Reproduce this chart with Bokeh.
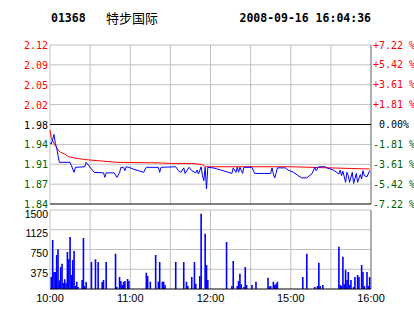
from bokeh.plotting import figure
from bokeh.models import Range1d
from bokeh.embed import file_html
from bokeh.resources import INLINE
from bokeh.core.properties import value

# ---------------- data ----------------
stock_code = "01368"
stock_name = "特步国际"
stamp = "2008-09-16 16:04:36"
prev_close = 1.98
pct_levels = [7.22, 5.42, 3.61, 1.81, 0.0, -1.81, -3.61, -5.42, -7.22]
price_labels = ["2.12", "2.09", "2.05", "2.02", "1.98", "1.94", "1.91", "1.87", "1.84"]
pct_labels = ["+7.22 %", "+5.42 %", "+3.61 %", "+1.81 %", "0.00%", "-1.81 %", "-3.61 %", "-5.42 %", "-7.22 %"]

time_grid = [0, 30, 60, 90, 120, 150, 180, 210, 240]
time_ticks = [0, 60, 120, 180, 240]
time_labels = ["10:00", "11:00", "12:00", "15:00", "16:00"]
vol_grid = [375, 750, 1125, 1500]
vol_ticks = [375, 750, 1125, 1500]
vol_labels = ["375", "750", "1125", "1500"]

# minutes of trading since 10:00 (lunch break removed)
price_t = [0, 1, 3, 4, 5, 6, 7, 15, 16, 18, 19, 26, 27, 28, 33,
           40, 41, 42, 48, 50, 52, 53, 55, 56, 57, 59, 62,
           70, 72, 81, 82, 83, 94, 96, 98, 100, 101, 104, 106,
           109, 110, 111, 113, 114, 115, 116, 117, 118, 122, 128,
           136, 137, 139, 140, 141, 142, 144, 145, 149, 151, 153,
           165, 166, 167, 168, 169, 170, 176, 178, 182, 188, 192,
           196, 198, 199, 201, 206, 207, 212, 216, 217, 218, 219,
           221, 222, 223, 224, 226, 227, 229, 230, 232, 233, 234, 235, 237, 239]
price_v = [1.947, 1.945, 1.962, 1.946, 1.938, 1.924, 1.912, 1.912, 1.906, 1.894, 1.903, 1.904, 1.912, 1.909, 1.894,
           1.893, 1.885, 1.893, 1.893, 1.885, 1.893, 1.903, 1.903, 1.897, 1.904, 1.903, 1.900,
           1.894, 1.903, 1.903, 1.894, 1.903, 1.904, 1.897, 1.894, 1.902, 1.892, 1.903, 1.897,
           1.893, 1.898, 1.891, 1.904, 1.888, 1.879, 1.903, 1.864, 1.903, 1.902, 1.898,
           1.892, 1.902, 1.894, 1.903, 1.894, 1.903, 1.892, 1.903, 1.903, 1.903, 1.892,
           1.892, 1.902, 1.891, 1.884, 1.892, 1.902, 1.902, 1.898, 1.894, 1.884, 1.884,
           1.892, 1.903, 1.897, 1.904, 1.904, 1.902, 1.898, 1.891, 1.898, 1.888, 1.896,
           1.876, 1.894, 1.888, 1.876, 1.894, 1.874, 1.892, 1.876, 1.890, 1.882, 1.897, 1.888, 1.886, 1.897]

avg_t = [0, 1, 4, 6, 8, 11, 14, 18, 26, 40, 50, 80, 90, 106, 114, 116, 180, 239]
avg_v = [1.970, 1.955, 1.942, 1.934, 1.930, 1.927, 1.922, 1.920, 1.917, 1.914, 1.912, 1.911,
         1.910, 1.910, 1.908, 1.904, 1.904, 1.900]

vol_t = [1, 2, 3, 4, 5, 6, 7, 8, 9, 10, 11, 12, 13, 14, 15, 16, 17, 18, 19, 20, 21,
         24, 25, 26, 27, 31, 34, 36, 39, 40, 42,
         49, 50, 52, 53, 54, 55, 56, 58, 59,
         72, 73, 75, 79, 81, 82, 84, 85, 86,
         94, 100, 102, 103, 106, 108, 109, 112, 113, 116, 117, 118,
         132, 136, 137, 140, 141, 142, 143, 145, 146, 147, 151, 154,
         163, 164, 165, 167, 168, 169, 170,
         189, 192, 198, 200, 201, 202, 204,
         216, 217, 218, 219, 220, 221, 222, 223, 224, 225, 227, 228, 230, 231, 233, 234, 235, 237, 238, 239]
vol_v = [228, 930, 323, 323, 646, 753, 165, 418, 481, 114, 184, 114, 703, 563, 988, 266, 551, 722, 57, 139, 38,
         171, 968, 51, 133, 513, 563, 513, 133, 171, 513,
         671, 38, 228, 152, 76, 133, 152, 190, 152,
         310, 247, 139, 646, 139, 513, 139, 139, 76,
         513, 513, 139, 57, 228, 513, 101, 247, 1431, 1051, 456, 171,
         893, 57, 532, 57, 152, 291, 89, 38, 418, 76, 76, 139,
         215, 44, 57, 139, 76, 101, 139,
         228, 671, 38, 57, 500, 57, 76,
         804, 76, 57, 614, 89, 367, 171, 323, 76, 171, 38, 228, 266, 228, 456, 323, 57, 323, 57, 228]
assert len(price_t) == len(price_v) and len(avg_t) == len(avg_v) and len(vol_t) == len(vol_v)

# ---------------- styles / layout ----------------
RED = "#ff0000"
GREEN = "#006000"
BLACK = "#000000"
GRID = "#c0c0c0"
EDGE = "#808080"
BLUE = "#0000ff"
MONO = "DejaVu Sans Mono"
SANS = "Liberation Sans"

W, H = 414, 314
LEFT = 49                     # px of the panels' left edge
kx = 321 / 240.0              # px per trading minute
P_TOP, P_BOT = 44.5, 203.5    # pixel centres of the price panel's top / bottom lines
V_TOP, V_BOT = 209.5, 288.5   # pixel centres of the volume panel's top / bottom lines

levels = [prev_close * (1 + p / 100.0) for p in pct_levels]
top, bottom = max(levels), min(levels)
label_colors = [RED if p > 0 else (BLACK if p == 0 else GREEN) for p in pct_levels]
is_black = [(p == 0 or lv == bottom) for p, lv in zip(pct_levels, levels)]
right_offsets = [2 if lab[0] in "+-" else 8 for lab in pct_labels]

sy = (P_BOT - P_TOP) / (top - bottom)      # px per price unit
sv = (V_BOT - V_TOP) / 1500.0               # px per volume unit

p = figure(width=W, height=H,
           x_range=Range1d(-(LEFT + 0.5) / kx, (W - LEFT - 0.5) / kx),
           y_range=Range1d(bottom - (H - P_BOT) / sy, top + P_TOP / sy),
           min_border_top=0, min_border_bottom=0, min_border_left=0, min_border_right=0,
           toolbar_location=None, output_backend="svg", x_axis_location=None, y_axis_location=None,
           title_location=None)
p.extra_y_ranges = {"vol": Range1d(-(H - V_BOT) / sv, V_BOT / sv)}
p.grid.visible = False
p.outline_line_color = None
p.background_fill_color = "white"
p.border_fill_color = "white"

# ---- price panel ----
n = len(time_grid)
p.segment(x0=time_grid, y0=[bottom] * n, x1=time_grid, y1=[top] * n, line_color=GRID, line_width=1)
gray_lv = [lv for lv, b in zip(levels, is_black) if not b]
black_lv = [lv for lv, b in zip(levels, is_black) if b]
p.segment(x0=[0] * len(gray_lv), y0=gray_lv, x1=[240] * len(gray_lv), y1=gray_lv, line_color=GRID, line_width=1)
p.segment(x0=[240], y0=[bottom], x1=[240], y1=[top], line_color=EDGE, line_width=1)
p.segment(x0=[0] * len(black_lv), y0=black_lv, x1=[240] * len(black_lv), y1=black_lv, line_color=BLACK, line_width=1)

p.line(avg_t, avg_v, line_color=RED, line_width=1)
p.line(price_t, price_v, line_color=BLUE, line_width=1)

p.text(x=[0] * len(levels), y=levels, text=price_labels, text_color=label_colors, x_offset=-2,
       text_align="right", text_baseline="middle", text_font=value(MONO), text_font_size="10px")
p.text(x=[240] * len(levels), y=levels, text=pct_labels, text_color=label_colors, x_offset=right_offsets,
       text_align="left", text_baseline="middle", text_font=value(MONO), text_font_size="10px")

header_y = top + (P_TOP - 17) / sy
p.text(x=[0], y=[header_y], text=[stock_code], x_offset=1, text_align="left", text_baseline="middle",
       text_font=value(MONO), text_font_style="bold", text_font_size="11.5px", text_color=BLACK)
p.text(x=[0], y=[header_y], text=[stock_name], x_offset=56, text_align="left", text_baseline="middle",
       text_font=value("Noto Sans CJK SC"), text_font_size="13px", text_color=BLACK)
p.text(x=[240], y=[header_y], text=[stamp], x_offset=0, text_align="right", text_baseline="middle",
       text_font=value(MONO), text_font_style="bold", text_font_size="11.5px", text_color=BLACK)

# ---- volume panel ----
p.segment(x0=time_grid, y0=[0] * n, x1=time_grid, y1=[1500] * n, line_color=GRID, line_width=1,
          y_range_name="vol")
m = len(vol_grid)
p.segment(x0=[0] * m, y0=vol_grid, x1=[240] * m, y1=vol_grid, line_color=GRID, line_width=1,
          y_range_name="vol")
p.segment(x0=[240], y0=[0], x1=[240], y1=[1500], line_color=EDGE, line_width=1, y_range_name="vol")
p.vbar(x=vol_t, top=vol_v, bottom=0, width=1.2, fill_color=BLUE, line_color=None, y_range_name="vol")
p.segment(x0=[0], y0=[0], x1=[240], y1=[0], line_color=BLACK, line_width=1, y_range_name="vol")

vol_label_y = [v - 3.5 / sv for v in vol_ticks]
p.text(x=[0] * len(vol_ticks), y=vol_label_y, text=vol_labels, x_offset=-2, text_align="right",
       text_baseline="middle", text_font=value(SANS), text_font_size="10.5px", text_color=BLACK,
       y_range_name="vol")
time_label_y = -(297.5 - V_BOT) / sv
p.text(x=time_ticks, y=[time_label_y] * len(time_ticks), text=time_labels, text_align="center",
       text_baseline="middle", text_font=value(SANS), text_font_size="11px", text_color=BLACK,
       y_range_name="vol")

open("out.html", "w").write(file_html(p, INLINE))
